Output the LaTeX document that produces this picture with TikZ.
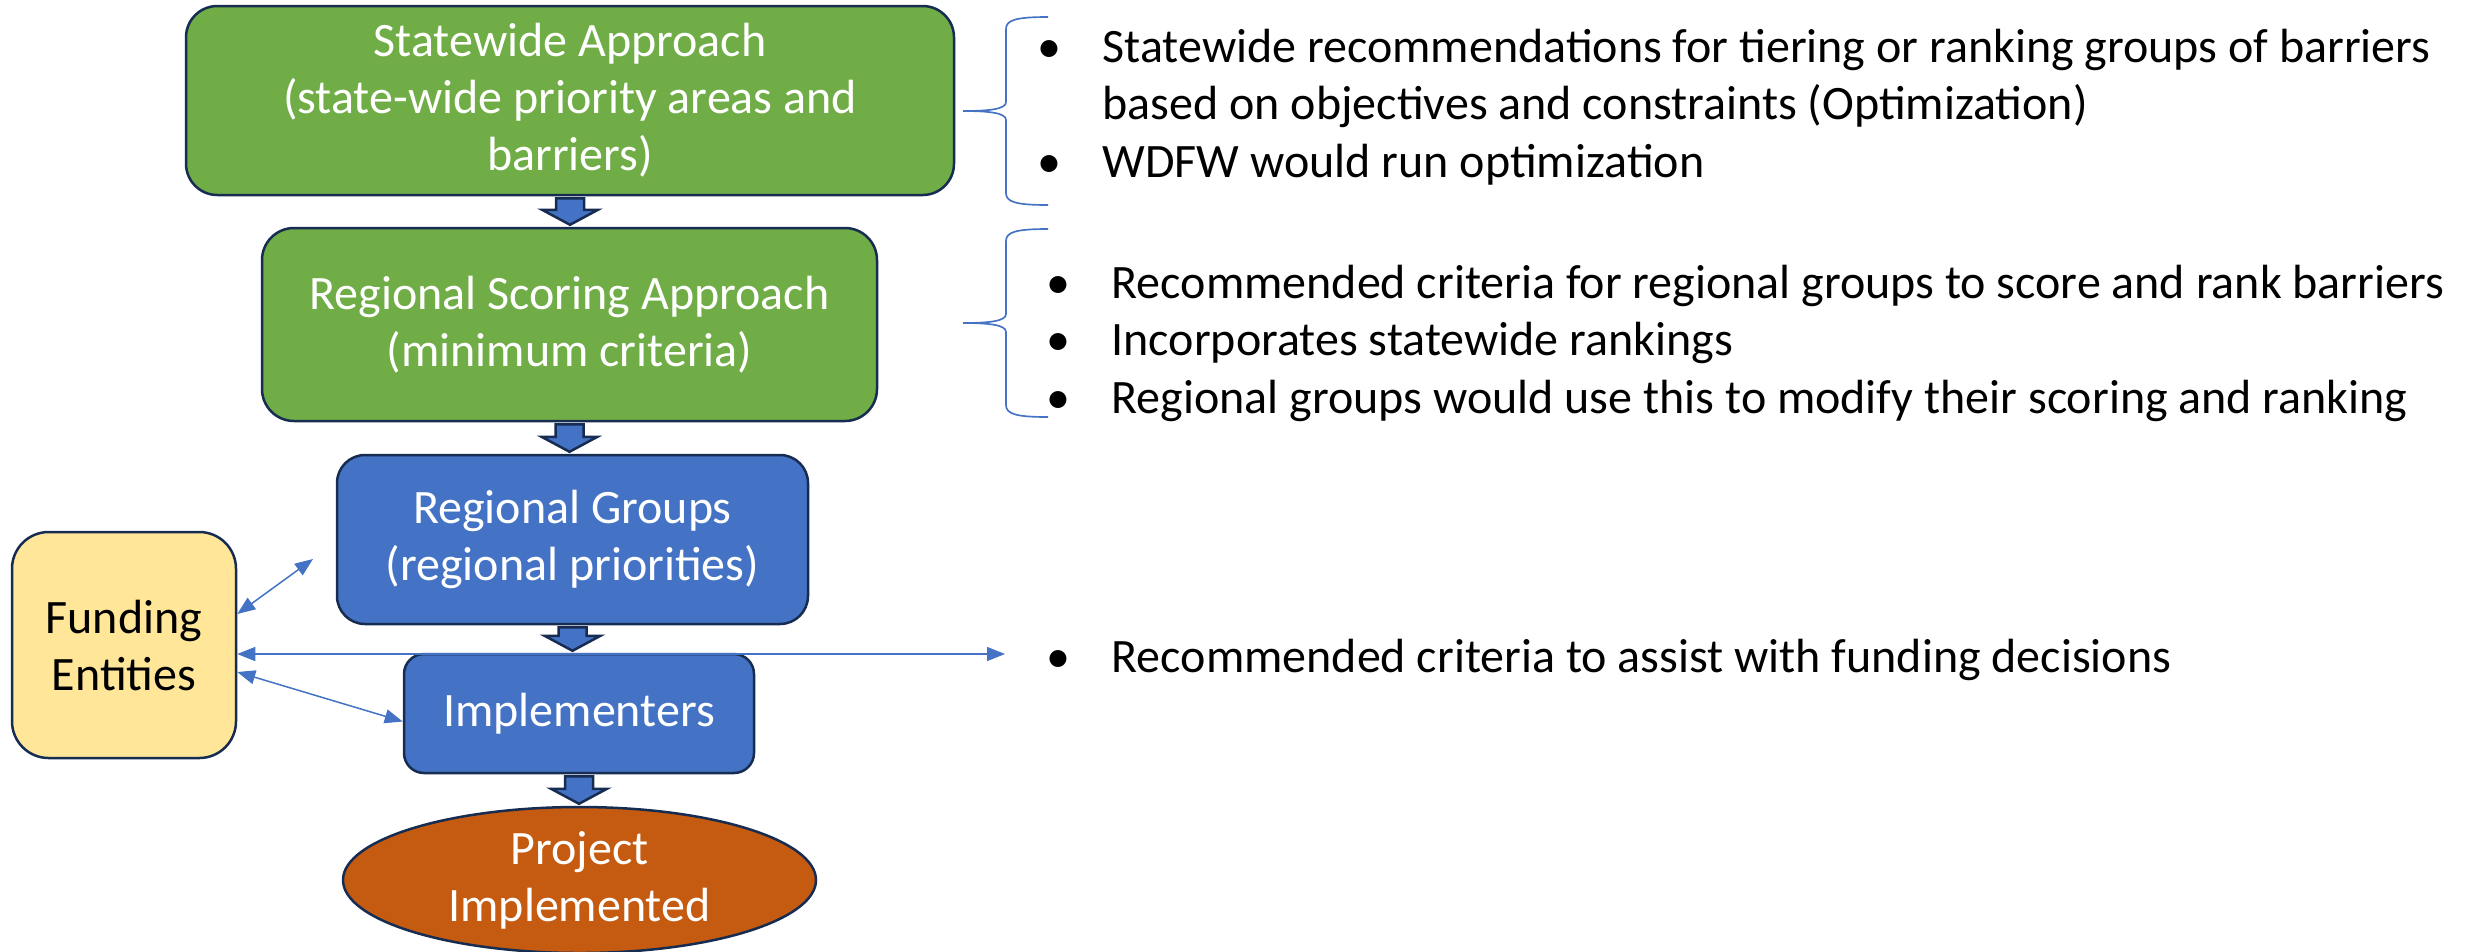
\documentclass[tikz,border=0pt]{standalone}
\usepackage{fontspec}
\setmainfont{Carlito}
\usetikzlibrary{arrows.meta,calc,shapes.geometric}
\definecolor{stagegreen}{HTML}{70AD47}
\definecolor{stageblue}{HTML}{4472C4}
\definecolor{fundyellow}{HTML}{FFE699}
\definecolor{projorange}{HTML}{C55A11}
\definecolor{outline}{HTML}{172C51}
\newcommand\boxfont{\fontsize{14.4}{17.1}\selectfont}
\newcommand\notefont{\fontsize{14.4}{17.3}\selectfont}
\newcommand\itm{\llap{\makebox[31.8pt]{\textbullet}}}
\tikzset{stage/.style={draw=outline,line width=0.75pt,text=white,align=center,inner sep=0pt,font=\boxfont},
  note/.style={anchor=base west,inner sep=0pt,font=\notefont},
  flow/.style={fill=stageblue,draw=outline,line width=0.75pt,line join=miter},
  link/.style={draw=stageblue,line width=0.45pt,{Triangle[length=5.4pt,width=4.2pt]}-{Triangle[length=5.4pt,width=4.2pt]}},
  bracket/.style={draw=stageblue,line width=0.5pt}}

\begin{document}
\begin{tikzpicture}[x=0.3pt,y=-0.3pt]
  \useasboundingbox (0,0) rectangle (2476,951);
  % main column
  \node[stage,fill=stagegreen,minimum width=230.4pt,minimum height=56.7pt,rounded corners=9.4pt] (state) at (570,100.5)
    {Statewide Approach\\(state-wide priority areas and\\barriers)};
  \node[stage,fill=stagegreen,minimum width=184.5pt,minimum height=57.9pt,rounded corners=9.6pt] (score) at (569.5,324.5)
    {Regional Scoring Approach\\(minimum criteria)};
  \node[stage,fill=stageblue,minimum width=141.3pt,minimum height=50.7pt,rounded corners=8.4pt] (groups) at (572.5,539.5)
    {Regional Groups\\(regional priorities)};
  \node[stage,fill=stageblue,minimum width=105pt,minimum height=35.7pt,rounded corners=6pt] (impl) at (579,713.5)
    {Implementers};
  \node[stage,ellipse,fill=projorange,minimum width=141.9pt,minimum height=43.8pt] (proj) at (579.5,880)
    {Project\\Implemented};
  \node[stage,fill=fundyellow,text=black,minimum width=67.2pt,minimum height=67.8pt,rounded corners=11pt] (fund) at (124,645)
    {Funding\\Entities};

  % block arrows down the column
  \foreach \a/\b in {state/score,score/groups,groups/impl,impl/proj} {
    \coordinate (tail) at ($(\a.south)+(0,2)$);
    \coordinate (tip) at ($(\a.south |- \b.north)+(0,-2)$);
    \draw[flow] ($(tail)+(-14,0)$) -- ($(tail)+(14,0)$) -- ($(tip)+(14,-15)$) -- ($(tip)+(28,-15)$)
      -- (tip) -- ($(tip)+(-28,-15)$) -- ($(tip)+(-14,-15)$) -- cycle;
  }

  % notes
  \node[note] (statenotes) at (1102,62) {\begin{tabular}[t]{@{}l@{}}
    \itm Statewide recommendations for tiering or ranking groups of barriers\\
    based on objectives and constraints (Optimization)\\
    \itm WDFW would run optimization\end{tabular}};
  \node[note] (scorenotes) at (1111,298) {\begin{tabular}[t]{@{}l@{}}
    \itm Recommended criteria for regional groups to score and rank barriers\\
    \itm Incorporates statewide rankings\\
    \itm Regional groups would use this to modify their scoring and ranking\end{tabular}};
  \node[note] (fundnotes) at (1111,672) {\itm Recommended criteria to assist with funding decisions};

  % braces
  \foreach \t/\m/\b in {17/111/205,229/323/417}
    \draw[bracket] (1048,\t) .. controls (1016,\t) and (1006,\t+3) .. (1006,\t+12)
      -- (1006,\m-9) .. controls (1006,\m-2) and (990,\m) .. (963,\m)
      .. controls (990,\m) and (1006,\m+2) .. (1006,\m+9)
      -- (1006,\b-12) .. controls (1006,\b-3) and (1016,\b) .. (1048,\b);

  % funding links
  \coordinate (groupsend) at (313,559);
  \coordinate (notesend) at (1005,654);
  \draw[link] ($(fund.east)+(0,-31)$) -- (groupsend);
  \draw[link] (fund.east |- notesend) -- (notesend);
  \draw[link] ($(fund.east)+(0,27)$) -- ($(impl.west)+(0,8)$);
\end{tikzpicture}
\end{document}
